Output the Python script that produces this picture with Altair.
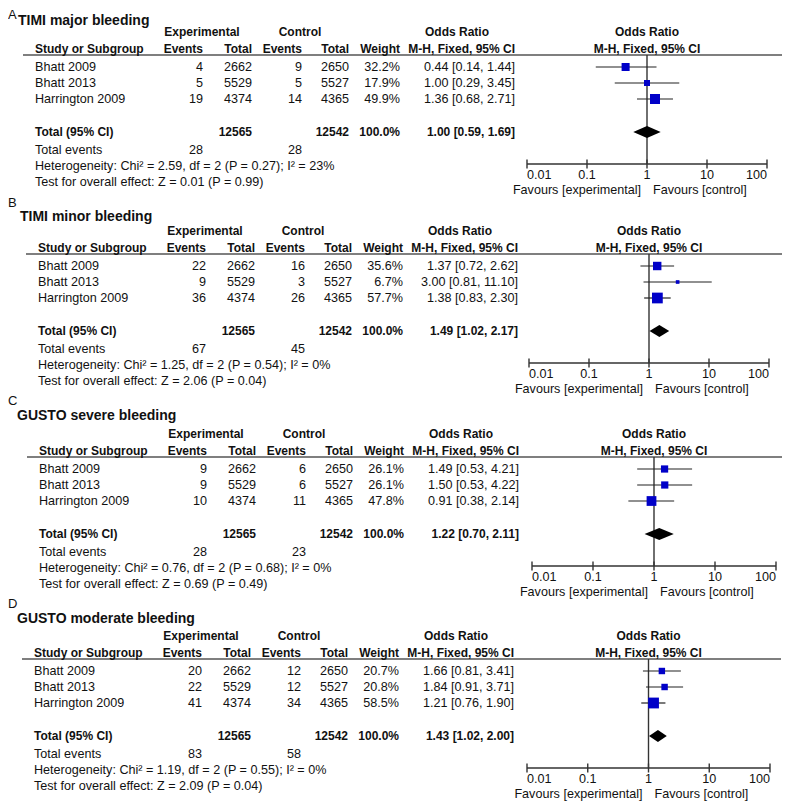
import altair as alt
import pandas as pd

# ---------------- data ----------------
letters = ["A", "B", "C", "D"]
titles = ["TIMI major bleeding", "TIMI minor bleeding", "GUSTO severe bleeding", "GUSTO moderate bleeding"]
studies = ["Bhatt 2009", "Bhatt 2013", "Harrington 2009"]
exp_events = [[4, 5, 19], [22, 9, 36], [9, 9, 10], [20, 22, 41]]
exp_total = [2662, 5529, 4374]
ctl_events = [[9, 5, 14], [16, 3, 26], [6, 6, 11], [12, 12, 34]]
ctl_total = [2650, 5527, 4365]
weights = [[32.2, 17.9, 49.9], [35.6, 6.7, 57.7], [26.1, 26.1, 47.8], [20.7, 20.8, 58.5]]
or_est = [[0.44, 1.00, 1.36], [1.37, 3.00, 1.38], [1.49, 1.50, 0.91], [1.66, 1.84, 1.21]]
or_lo = [[0.14, 0.29, 0.68], [0.72, 0.81, 0.83], [0.53, 0.53, 0.38], [0.81, 0.91, 0.76]]
or_hi = [[1.44, 3.45, 2.71], [2.62, 11.10, 2.30], [4.21, 4.22, 2.14], [3.41, 3.71, 1.90]]
sum_exp_total = 12565
sum_ctl_total = 12542
sum_exp_events = [28, 67, 28, 83]
sum_ctl_events = [28, 45, 23, 58]
tot_or = [1.00, 1.49, 1.22, 1.43]
tot_lo = [0.59, 1.02, 0.70, 1.02]
tot_hi = [1.69, 2.17, 2.11, 2.00]
heterogeneity = [
    "Heterogeneity: Chi\u00b2 = 2.59, df = 2 (P = 0.27); I\u00b2 = 23%",
    "Heterogeneity: Chi\u00b2 = 1.25, df = 2 (P = 0.54); I\u00b2 = 0%",
    "Heterogeneity: Chi\u00b2 = 0.76, df = 2 (P = 0.68); I\u00b2 = 0%",
    "Heterogeneity: Chi\u00b2 = 1.19, df = 2 (P = 0.55); I\u00b2 = 0%",
]
overall = [
    "Test for overall effect: Z = 0.01 (P = 0.99)",
    "Test for overall effect: Z = 2.06 (P = 0.04)",
    "Test for overall effect: Z = 0.69 (P = 0.49)",
    "Test for overall effect: Z = 2.09 (P = 0.04)",
]
tick_values = [0.01, 0.1, 1, 10, 100]
tick_labels = ["0.01", "0.1", "1", "10", "100"]
favours_labels = ["Favours [experimental]", "Favours [control]"]

# ---------------- layout (reference-picture pixels) ----------------
OFF = 8
W, H = 774, 793
FONT = "Liberation Sans"
FS = 12.6
FSB = 12.0
TXT = "#111111"
ROW = dict(h1=32, h2=49, hline=55, s=[67, 83, 99], total=132, tev=150, het=166, test=182,
           axis=164, ticklab=175, fav=190)
COL = dict(study=35, e_ev=203, e_tot=252, c_ev=302, c_tot=349, weight=400, orc=515,
           exp_hdr=202, ctl_hdr=300, or_hdr=457, line0=23, line1=782)
PANELS = [
    dict(top=0, dx=0, letter_y=9, title_y=21, title_x=18, forest=(527, 767)),
    dict(top=199, dx=3, letter_y=203, title_y=217, title_x=20, forest=(529, 769)),
    dict(top=402, dx=4, letter_y=401, title_y=416, title_x=17, forest=(532, 776)),
    dict(top=604, dx=-1, letter_y=604, title_y=619, title_x=17, forest=(527, 770)),
]

px = alt.Scale(domain=[0, W], range=[0, W], nice=False, zero=False)
py = alt.Scale(domain=[0, H], range=[0, H], nice=False, zero=False)
size_scale = alt.Scale(domain=[0, 100], range=[0, 200])


def Y(field="y"):
    return alt.Y(f"{field}:Q", scale=py, axis=None)


texts = []


def add(x, y, text, style):
    texts.append(dict(x=x - OFF, y=y - OFF, text=str(text), style=style))


forest_layers = []
letter_rows = []

for i, p in enumerate(PANELS):
    t, d = p["top"], p["dx"]
    letter_rows.append(dict(x=0, y=max(p["letter_y"] - OFF - 6, 1), text=letters[i]))
    add(p["title_x"], p["title_y"], titles[i], "title")
    add(COL["exp_hdr"] + d, t + ROW["h1"], "Experimental", "bc")
    add(COL["ctl_hdr"] + d, t + ROW["h1"], "Control", "bc")
    add(COL["or_hdr"] + d, t + ROW["h1"], "Odds Ratio", "bc")
    add(COL["study"] + d, t + ROW["h2"], "Study or Subgroup", "bl")
    for key, lab in [("e_ev", "Events"), ("e_tot", "Total"), ("c_ev", "Events"),
                     ("c_tot", "Total"), ("weight", "Weight"), ("orc", "M-H, Fixed, 95% CI")]:
        add(COL[key] + d, t + ROW["h2"], lab, "br")
    for j, name in enumerate(studies):
        yy = t + ROW["s"][j]
        add(COL["study"] + d, yy, name, "rl")
        add(COL["e_ev"] + d, yy, exp_events[i][j], "rr")
        add(COL["e_tot"] + d, yy, exp_total[j], "rr")
        add(COL["c_ev"] + d, yy, ctl_events[i][j], "rr")
        add(COL["c_tot"] + d, yy, ctl_total[j], "rr")
        add(COL["weight"] + d, yy, f"{weights[i][j]:.1f}%", "rr")
        add(COL["orc"] + d, yy, f"{or_est[i][j]:.2f} [{or_lo[i][j]:.2f}, {or_hi[i][j]:.2f}]", "rr")
    yy = t + ROW["total"]
    add(COL["study"] + d, yy, "Total (95% CI)", "bl")
    add(COL["e_tot"] + d, yy, sum_exp_total, "br")
    add(COL["c_tot"] + d, yy, sum_ctl_total, "br")
    add(COL["weight"] + d, yy, "100.0%", "br")
    add(COL["orc"] + d, yy, f"{tot_or[i]:.2f} [{tot_lo[i]:.2f}, {tot_hi[i]:.2f}]", "br")
    yy = t + ROW["tev"]
    add(COL["study"] + d, yy, "Total events", "rl")
    add(COL["e_ev"] + d, yy, sum_exp_events[i], "rr")
    add(COL["c_ev"] + d, yy, sum_ctl_events[i], "rr")
    add(COL["study"] + d, t + ROW["het"], heterogeneity[i], "rl")
    add(COL["study"] + d, t + ROW["test"], overall[i], "rl")

    # header rule
    hl = pd.DataFrame([dict(x=COL["line0"] + d - OFF, x2=COL["line1"] + d - OFF, y=t + ROW["hline"] - OFF)])
    forest_layers.append(
        alt.Chart(hl).mark_rule(color="#555555", strokeWidth=1.6).encode(
            x=alt.X("x:Q", scale=px, axis=None), x2="x2:Q", y=Y()))

    # forest plot on its own log scale
    f0, f1 = p["forest"]
    fs = alt.Scale(type="log", domain=[tick_values[0], tick_values[-1]], range=[f0 - OFF, f1 - OFF], nice=False)
    st = pd.DataFrame(dict(est=or_est[i], lo=or_lo[i], hi=or_hi[i], w=weights[i],
                           y=[t + v - OFF for v in ROW["s"]]))
    yc = t + ROW["total"] - OFF
    dia = pd.DataFrame(dict(x=[tot_lo[i], tot_or[i], tot_hi[i]], yt=[yc, yc - 6, yc], yb=[yc, yc + 6, yc]))
    ax_y = t + ROW["axis"] - OFF
    vl = pd.DataFrame([dict(x=1, y=t + ROW["hline"] - OFF, y2=ax_y)])
    axl = pd.DataFrame([dict(x=tick_values[0], x2=tick_values[-1], y=ax_y)])
    tk = pd.DataFrame(dict(x=tick_values, lab=tick_labels, y=ax_y - 4.5, y2=ax_y + 4.5,
                           ly=t + ROW["ticklab"] - OFF))
    fh = pd.DataFrame(dict(x=[1, 1], lab=["Odds Ratio", "M-H, Fixed, 95% CI"],
                           y=[t + ROW["h1"] - OFF, t + ROW["h2"] - OFF]))
    fv = pd.DataFrame(dict(x=[1, 1], lab=favours_labels, y=t + ROW["fav"] - OFF))

    X = lambda f: alt.X(f"{f}:Q", scale=fs, axis=None)
    forest_layers += [
        alt.Chart(vl).mark_rule(color="#333333", strokeWidth=1.4).encode(x=X("x"), y=Y(), y2="y2:Q"),
        alt.Chart(axl).mark_rule(color="#333333", strokeWidth=1.6).encode(x=X("x"), x2="x2:Q", y=Y()),
        alt.Chart(tk).mark_rule(color="#333333", strokeWidth=1.4).encode(x=X("x"), y=Y(), y2="y2:Q"),
        alt.Chart(st).mark_rule(color="#222222", strokeWidth=1.2).encode(x=X("lo"), x2="hi:Q", y=Y()),
        alt.Chart(st).mark_square(filled=True, color="#0000C8", opacity=1, strokeWidth=0).encode(
            x=X("est"), y=Y(), size=alt.Size("w:Q", scale=size_scale, legend=None)),
        alt.Chart(dia).mark_area(color="#000000", opacity=1).encode(x=X("x"), y=Y("yt"), y2="yb:Q"),
        alt.Chart(tk.iloc[:1]).mark_text(align="left", baseline="middle", font=FONT, fontSize=FS, color=TXT).encode(
            x=X("x"), y=Y("ly"), text="lab:N"),
        alt.Chart(tk.iloc[1:-1]).mark_text(align="center", baseline="middle", font=FONT, fontSize=FS, color=TXT).encode(
            x=X("x"), y=Y("ly"), text="lab:N"),
        alt.Chart(tk.iloc[-1:]).mark_text(align="right", baseline="middle", font=FONT, fontSize=FS, color=TXT).encode(
            x=X("x"), y=Y("ly"), text="lab:N"),
        alt.Chart(fh).mark_text(align="center", baseline="middle", font=FONT, fontSize=FSB, fontWeight="bold",
                                color=TXT).encode(x=X("x"), y=Y(), text="lab:N"),
        alt.Chart(fv.iloc[:1]).mark_text(align="right", baseline="middle", dx=-6, font=FONT, fontSize=FS,
                                         color=TXT).encode(x=X("x"), y=Y(), text="lab:N"),
        alt.Chart(fv.iloc[1:]).mark_text(align="left", baseline="middle", dx=6, font=FONT, fontSize=FS,
                                         color=TXT).encode(x=X("x"), y=Y(), text="lab:N"),
    ]

tdf = pd.DataFrame(texts)
STYLES = {
    "rl": dict(align="left", fontWeight="normal", fontSize=FS),
    "rr": dict(align="right", fontWeight="normal", fontSize=FS),
    "bl": dict(align="left", fontWeight="bold", fontSize=FSB),
    "br": dict(align="right", fontWeight="bold", fontSize=FSB),
    "bc": dict(align="center", fontWeight="bold", fontSize=FSB),
    "title": dict(align="left", fontWeight="bold", fontSize=14),
}
text_layers = []
for s, kw in STYLES.items():
    sub = tdf[tdf["style"] == s]
    text_layers.append(
        alt.Chart(sub).mark_text(baseline="middle", font=FONT, color=TXT, **kw).encode(
            x=alt.X("x:Q", scale=px, axis=None), y=Y(), text="text:N"))
text_layers.append(
    alt.Chart(pd.DataFrame(letter_rows)).mark_text(baseline="top", align="left", font=FONT, fontSize=13,
                                                   color=TXT).encode(
        x=alt.X("x:Q", scale=px, axis=None), y=Y(), text="text:N"))

chart = (
    alt.layer(*forest_layers, *text_layers)
    .resolve_scale(x="independent")
    .properties(width=W, height=H, padding=0, autosize=alt.AutoSizeParams(type="none"),
                background="white")
    .configure_view(strokeWidth=0)
)

chart.save("out.html", embed_options={"renderer": "svg", "actions": False})
